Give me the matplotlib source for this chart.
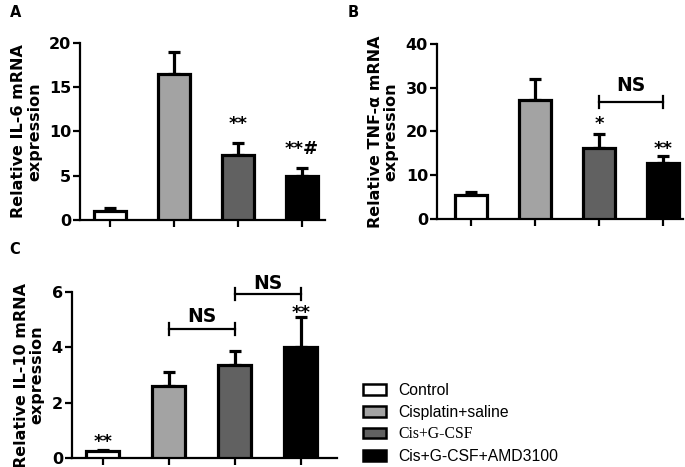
import matplotlib.pyplot as plt
from matplotlib.patches import Patch

plt.rcParams['font.family'] = ['DejaVu Sans']

groups = ['Control', 'Cisplatin+saline', 'Cis+G-CSF', 'Cis+G-CSF+AMD3100']
colors = ['white', '#a3a3a3', '#616161', 'black']

il6 = [1.0, 16.5, 7.3, 5.0]
il6_err = [0.3, 2.5, 1.4, 0.9]
tnf = [5.5, 27.2, 16.2, 12.8]
tnf_err = [0.7, 4.8, 3.2, 1.7]
il10 = [0.25, 2.6, 3.35, 4.0]
il10_err = [0.05, 0.5, 0.5, 1.1]

LW = 2.3


def draw_panel(ax, vals, errs, ylim, yticks, ylabel, xlim):
    x = range(len(vals))
    ax.bar(x, vals, width=0.5, color=colors, edgecolor='black', linewidth=LW, zorder=3)
    ax.errorbar(x, vals, yerr=[[0] * len(vals), errs], fmt='none', ecolor='black',
                elinewidth=LW, capsize=4.5, capthick=LW, zorder=2)
    ax.set_ylim(*ylim)
    ax.set_xlim(*xlim)
    ax.set_yticks(yticks)
    ax.set_xticks(list(x))
    ax.set_xticklabels([])
    for s in ['top', 'right']:
        ax.spines[s].set_visible(False)
    for s in ['left', 'bottom']:
        ax.spines[s].set_linewidth(1.6)
    ax.tick_params(width=1.6, length=5, labelsize=11.5, pad=1.5)
    for lab in ax.get_yticklabels():
        lab.set_fontweight('bold')
    ax.set_ylabel(ylabel, fontsize=11.5, fontweight='bold', labelpad=5, linespacing=1.1)


def bracket(ax, x0, x1, y, h, text, ty):
    ax.plot([x0, x1], [y, y], color='black', lw=1.6, clip_on=False)
    ax.plot([x0, x0], [y - h, y + h], color='black', lw=1.6, clip_on=False)
    ax.plot([x1, x1], [y - h, y + h], color='black', lw=1.6, clip_on=False)
    ax.text((x0 + x1) / 2, ty, text, ha='center', va='center', fontsize=13.5, fontweight='bold')


fig = plt.figure(figsize=(6.85, 4.67), dpi=100)

axA = fig.add_axes([0.117, 0.529, 0.357, 0.379])
draw_panel(axA, il6, il6_err, (0, 20), [0, 5, 10, 15, 20], 'Relative IL-6 mRNA\nexpression', (-0.47, 3.36))
axA.text(2, 10.8, '**', ha='center', va='center', fontsize=13, fontweight='bold')
axA.text(3, 8.0, '**#', ha='center', va='center', fontsize=13, fontweight='bold')

axB = fig.add_axes([0.638, 0.531, 0.359, 0.375])
draw_panel(axB, tnf, tnf_err, (0, 40), [0, 10, 20, 30, 40], 'Relative TNF-\u03b1 mRNA\nexpression', (-0.53, 3.31))
axB.text(2, 21.6, '*', ha='center', va='center', fontsize=13, fontweight='bold')
axB.text(3, 15.9, '**', ha='center', va='center', fontsize=13, fontweight='bold')
bracket(axB, 2, 3, 26.7, 1.4, 'NS', 30.6)

axC = fig.add_axes([0.105, 0.019, 0.387, 0.356])
draw_panel(axC, il10, il10_err, (0, 6), [0, 2, 4, 6], 'Relative IL-10 mRNA\nexpression', (-0.47, 3.55))
axC.text(0, 0.6, '**', ha='center', va='center', fontsize=13, fontweight='bold')
axC.text(3, 5.22, '**', ha='center', va='center', fontsize=13, fontweight='bold')
bracket(axC, 1, 2, 4.66, 0.22, 'NS', 5.1)
bracket(axC, 2, 3, 5.93, 0.22, 'NS', 6.3)

fig.text(0.014, 0.973, 'A', fontsize=10.5, fontweight='bold', va='center')
fig.text(0.508, 0.973, 'B', fontsize=10.5, fontweight='bold', va='center')
fig.text(0.014, 0.465, 'C', fontsize=10.5, fontweight='bold', va='center')

handles = [Patch(facecolor=c, edgecolor='black', linewidth=1.8) for c in colors]
leg = fig.legend(handles, groups, loc='upper left', bbox_to_anchor=(0.518, 0.196),
                 frameon=False, borderpad=0, handlelength=1.5,
                 handleheight=0.7, handletextpad=0.75, labelspacing=0.42,
                 prop={'family': 'Liberation Sans', 'size': 11.3})
leg.get_texts()[2].set_family('Liberation Serif')

fig.savefig('out.png', dpi=100)
